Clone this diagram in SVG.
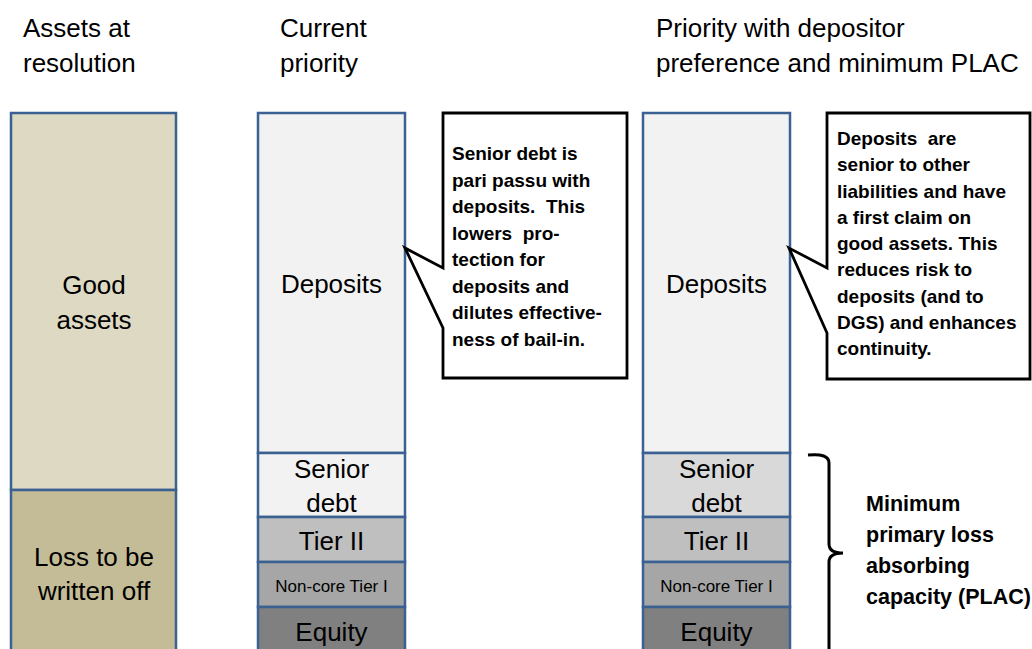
<svg xmlns="http://www.w3.org/2000/svg" width="1032" height="649" viewBox="0 0 1032 649">
<style>
text{font-family:"Liberation Sans",Arial,sans-serif;fill:#000}
.t{font-size:26px}
.c{font-size:26px;text-anchor:middle}
.s{font-size:17px;text-anchor:middle}
.b{font-size:19px;font-weight:bold;white-space:pre}
.p{font-size:21.5px;font-weight:bold}
.seg{stroke:#3A6191;stroke-width:2.5}
.call{fill:#fff;stroke:#000;stroke-width:2.8;stroke-linejoin:miter}
</style>
<rect width="1032" height="649" fill="#fff"/>
<g id="titles">
<text class="t" x="23" y="37">Assets at</text>
<text class="t" x="23" y="72">resolution</text>
<text class="t" x="280" y="37">Current</text>
<text class="t" x="280" y="72">priority</text>
<text class="t" x="656" y="37">Priority with depositor</text>
<text class="t" x="656" y="72">preference and minimum PLAC</text>
</g>
<g id="assets">
<rect class="seg" x="11" y="113" width="165" height="377" fill="#DDD9C3"/>
<rect class="seg" x="11" y="490" width="165" height="170" fill="#C4BC96"/>
<text class="c" x="94" y="294">Good</text>
<text class="c" x="94" y="329">assets</text>
<text class="c" x="94" y="566">Loss to be</text>
<text class="c" x="94" y="600">written off</text>
</g>
<g id="current">
<rect class="seg" x="258" y="113" width="147" height="340" fill="#F2F2F2"/>
<rect class="seg" x="258" y="453" width="147" height="64" fill="#F2F2F2"/>
<rect class="seg" x="258" y="517" width="147" height="45" fill="#BFBFBF"/>
<rect class="seg" x="258" y="562" width="147" height="45" fill="#A6A6A6"/>
<rect class="seg" x="258" y="607" width="147" height="60" fill="#808080"/>
<text class="c" x="331.5" y="293">Deposits</text>
<text class="c" x="331.5" y="478">Senior</text>
<text class="c" x="331.5" y="512">debt</text>
<text class="c" x="331.5" y="550">Tier II</text>
<text class="s" x="331.5" y="592">Non-core Tier I</text>
<text class="c" x="331.5" y="641">Equity</text>
</g>
<g id="proposed">
<rect class="seg" x="643" y="113" width="147" height="340" fill="#F2F2F2"/>
<rect class="seg" x="643" y="453" width="147" height="64" fill="#D9D9D9"/>
<rect class="seg" x="643" y="517" width="147" height="45" fill="#BFBFBF"/>
<rect class="seg" x="643" y="562" width="147" height="45" fill="#A6A6A6"/>
<rect class="seg" x="643" y="607" width="147" height="60" fill="#808080"/>
<text class="c" x="716.5" y="293">Deposits</text>
<text class="c" x="716.5" y="478">Senior</text>
<text class="c" x="716.5" y="512">debt</text>
<text class="c" x="716.5" y="550">Tier II</text>
<text class="s" x="716.5" y="592">Non-core Tier I</text>
<text class="c" x="716.5" y="641">Equity</text>
</g>
<g id="callout1">
<path class="call" d="M443,113 H627 V378 H443 V328 L405,248 L443,268 Z"/>
<text class="b" x="452" y="160">Senior debt is</text>
<text class="b" x="452" y="186.5">pari passu with</text>
<text class="b" x="452" y="213">deposits.  This</text>
<text class="b" x="452" y="239.5">lowers  pro-</text>
<text class="b" x="452" y="266">tection for</text>
<text class="b" x="452" y="292.5">deposits and</text>
<text class="b" x="452" y="319">dilutes effective-</text>
<text class="b" x="452" y="345.5">ness of bail-in.</text>
</g>
<g id="callout2">
<path class="call" d="M827,113 H1030 V379 H827 V333 L789,248 L827,268 Z"/>
<text class="b" x="837" y="145">Deposits  are</text>
<text class="b" x="837" y="171.25">senior to other</text>
<text class="b" x="837" y="197.5">liabilities and have</text>
<text class="b" x="837" y="223.75">a first claim on</text>
<text class="b" x="837" y="250">good assets. This</text>
<text class="b" x="837" y="276.25">reduces risk to</text>
<text class="b" x="837" y="302.5">deposits (and to</text>
<text class="b" x="837" y="328.75">DGS) and enhances</text>
<text class="b" x="837" y="355">continuity.</text>
</g>
<g id="connectors">
<path d="M808,455 Q829,453 829,463 V544 Q829,553 843,553 Q829,553 829,562 V665" fill="none" stroke="#000" stroke-width="3"/>
</g>
<g id="plac-label">
<text class="p" x="866" y="511">Minimum</text>
<text class="p" x="866" y="542">primary loss</text>
<text class="p" x="866" y="573">absorbing</text>
<text class="p" x="866" y="604">capacity (PLAC)</text>
</g>
</svg>
